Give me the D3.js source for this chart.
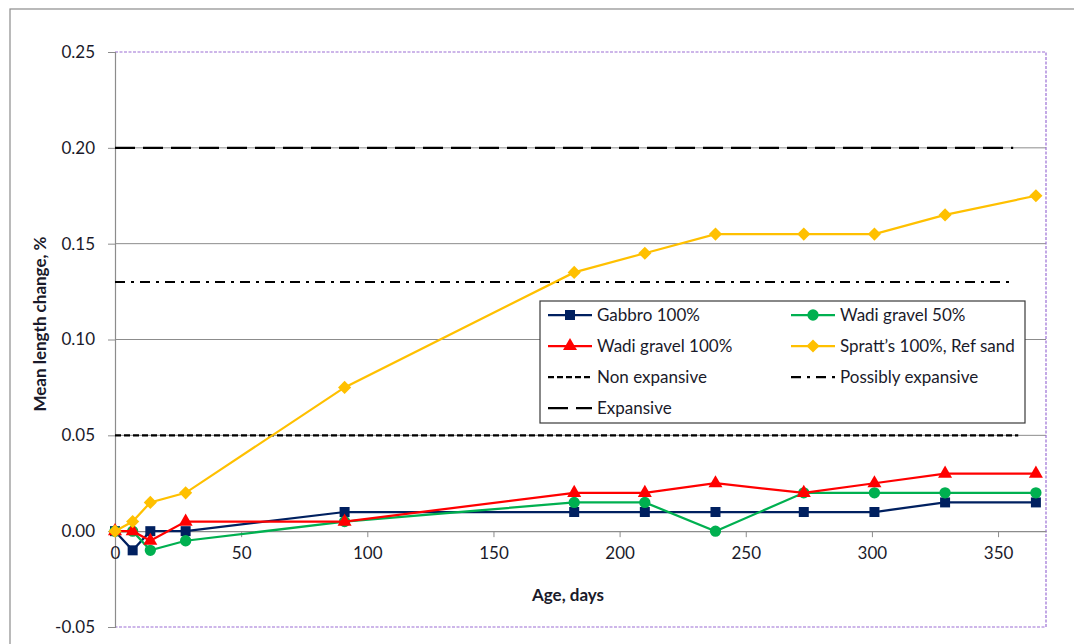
<!DOCTYPE html>
<html>
<head>
<meta charset="utf-8">
<script src="https://cdn.jsdelivr.net/npm/d3@7"></script>
<style>
  body { margin: 0; background: #fff; }
  text { font-family: Lato, "Open Sans", sans-serif; fill: #1a1a2a; }
</style>
</head>
<body>
<svg id="chart" width="1074" height="644"></svg>
<script>
const days = [0, 7, 14, 28, 91, 182, 210, 238, 273, 301, 329, 365]
const gabbro100 = [0, -0.01, 0, 0, 0.01, 0.01, 0.01, 0.01, 0.01, 0.01, 0.015, 0.015]
const wadi50 = [0, 0, -0.01, -0.005, 0.005, 0.015, 0.015, 0, 0.02, 0.02, 0.02, 0.02]
const wadi100 = [0, 0, -0.005, 0.005, 0.005, 0.02, 0.02, 0.025, 0.02, 0.025, 0.03, 0.03]
const spratt = [0, 0.005, 0.015, 0.02, 0.075, 0.135, 0.145, 0.155, 0.155, 0.155, 0.165, 0.175]

const xTicks = [0, 50, 100, 150, 200, 250, 300, 350]
const yTicks = [-0.05, 0, 0.05, 0.10, 0.15, 0.20, 0.25]

const series = [
  { name: 'Gabbro 100%', values: gabbro100, color: '#002060', symbol: d3.symbolSquare },
  { name: 'Wadi gravel 50%', values: wadi50, color: '#00B050', symbol: d3.symbolCircle },
  { name: 'Wadi gravel 100%', values: wadi100, color: '#FF0000', symbol: d3.symbolTriangle },
  { name: 'Spratt\u2019s 100%, Ref sand', values: spratt, color: '#FFC000', symbol: d3.symbolDiamond2 }
]
// limit lines
const limits = [
  { name: 'Non expansive', value: 0.05, dash: '6,3', end: 358 },
  { name: 'Possibly expansive', value: 0.13, dash: '10,6,3,6', end: 356 },
  { name: 'Expansive', value: 0.20, dash: '20,8', end: 356 }
]

const svg = d3.select('#chart')
const mLeft = 115, mRight = 1046, mTop = 52, mBottom = 627

const x = d3.scaleLinear().domain([0, 369]).range([mLeft, mRight])
const y = d3.scaleLinear().domain([-0.05, 0.25]).range([mBottom, mTop])

// outer frame
svg.append('rect')
  .attr('x', 10).attr('y', 9).attr('width', 1080).attr('height', 660)
  .attr('fill', 'none').attr('stroke', '#8c8c8c').attr('stroke-width', 1.2)

// gridlines
svg.append('g')
  .selectAll('line')
  .data(yTicks.filter(v => v > -0.05 && v < 0.25 && v !== 0))
  .enter()
  .append('line')
  .attr('x1', mLeft).attr('x2', mRight)
  .attr('y1', d => y(d)).attr('y2', d => y(d))
  .attr('stroke', '#8c8c8c').attr('stroke-width', 1)

// plot area border (purple dashed)
svg.append('path')
  .attr('d', `M${mLeft},${mTop}H${mRight}V${mBottom}H${mLeft}`)
  .attr('stroke', '#9b6fd4').attr('stroke-width', 1.2).attr('stroke-dasharray', '3,1.5').attr('fill', 'none')

// y axis
const yFmt = d3.format('.2f')
const yAxis = svg.append('g')
  .attr('transform', `translate(${mLeft},0)`)
  .call(d3.axisLeft(y).tickValues(yTicks).tickFormat(d => yFmt(d).replace('\u2212', '-')).tickSize(7).tickPadding(13))
yAxis.select('.domain').attr('stroke', '#8c8c8c').attr('stroke-width', 1.2)
yAxis.selectAll('.tick line').attr('stroke', '#8c8c8c')
yAxis.selectAll('.tick text').attr('font-size', 17).style('fill', '#1a1a2a')

// x axis at zero
const xAxis = svg.append('g')
  .attr('transform', `translate(0,${y(0)})`)
  .call(d3.axisBottom(x).tickValues(xTicks).tickSize(6).tickPadding(10).tickSizeOuter(0))
xAxis.select('.domain').attr('stroke', '#8c8c8c').attr('stroke-width', 1.2)
xAxis.selectAll('.tick line').attr('stroke', '#8c8c8c')
xAxis.selectAll('.tick text').attr('font-size', 17).style('fill', '#1a1a2a')

// limit lines
svg.append('g')
  .selectAll('line')
  .data(limits)
  .enter()
  .append('line')
  .attr('x1', x(0)).attr('x2', d => x(d.end))
  .attr('y1', d => y(d.value)).attr('y2', d => y(d.value))
  .attr('stroke', '#000').attr('stroke-width', 2.2)
  .attr('stroke-dasharray', d => d.dash)

// series
const line = d3.line().x((d, i) => x(days[i])).y(d => y(d))
const symbolSize = s => s === d3.symbolCircle ? 100 : s === d3.symbolSquare ? 100 : s === d3.symbolDiamond2 ? 110 : 85

series.forEach(s => {
  const g = svg.append('g')
  g.append('path')
    .attr('d', line(s.values))
    .attr('fill', 'none').attr('stroke', s.color).attr('stroke-width', 2.25)
  g.selectAll('path.pt')
    .data(s.values)
    .enter()
    .append('path')
    .attr('class', 'pt')
    .attr('d', d3.symbol().type(s.symbol).size(symbolSize(s.symbol)))
    .attr('transform', (d, i) => `translate(${x(days[i])},${y(d)})`)
    .attr('fill', s.color)
})

// legend
const legend = svg.append('g')
legend.append('rect')
  .attr('x', 540).attr('y', 301).attr('width', 485).attr('height', 122)
  .attr('fill', '#fff').attr('stroke', '#3a3a3a').attr('stroke-width', 1.2)

const legendItems = [
  { ...series[0], col: 0, row: 0 },
  { ...series[1], col: 1, row: 0 },
  { ...series[2], col: 0, row: 1 },
  { ...series[3], col: 1, row: 1 },
  { ...limits[0], col: 0, row: 2 },
  { ...limits[1], col: 1, row: 2 },
  { ...limits[2], col: 0, row: 3 }
]
const colX = [548, 791], rowY = [315, 346, 377, 408]

legendItems.forEach(it => {
  const lx = colX[it.col], ly = rowY[it.row]
  const g = legend.append('g')
  g.append('line')
    .attr('x1', lx).attr('x2', lx + 44).attr('y1', ly).attr('y2', ly)
    .attr('stroke', it.color || '#000').attr('stroke-width', 2.25)
    .attr('stroke-dasharray', it.dash || null)
  if (it.symbol) {
    g.append('path')
      .attr('d', d3.symbol().type(it.symbol).size(symbolSize(it.symbol)))
      .attr('transform', `translate(${lx + 22},${ly})`)
      .attr('fill', it.color)
  }
  g.append('text')
    .attr('x', lx + 49).attr('y', ly).attr('dy', '0.35em')
    .attr('font-size', 17)
    .text(it.name)
})

// axis titles
svg.append('text')
  .attr('transform', 'translate(46,324) rotate(-90)')
  .attr('text-anchor', 'middle').attr('font-size', 17).attr('font-weight', 'bold')
  .text('Mean length change, %')

svg.append('text')
  .attr('x', 568).attr('y', 601)
  .attr('text-anchor', 'middle').attr('font-size', 17).attr('font-weight', 'bold')
  .text('Age, days')
</script>
</body>
</html>
